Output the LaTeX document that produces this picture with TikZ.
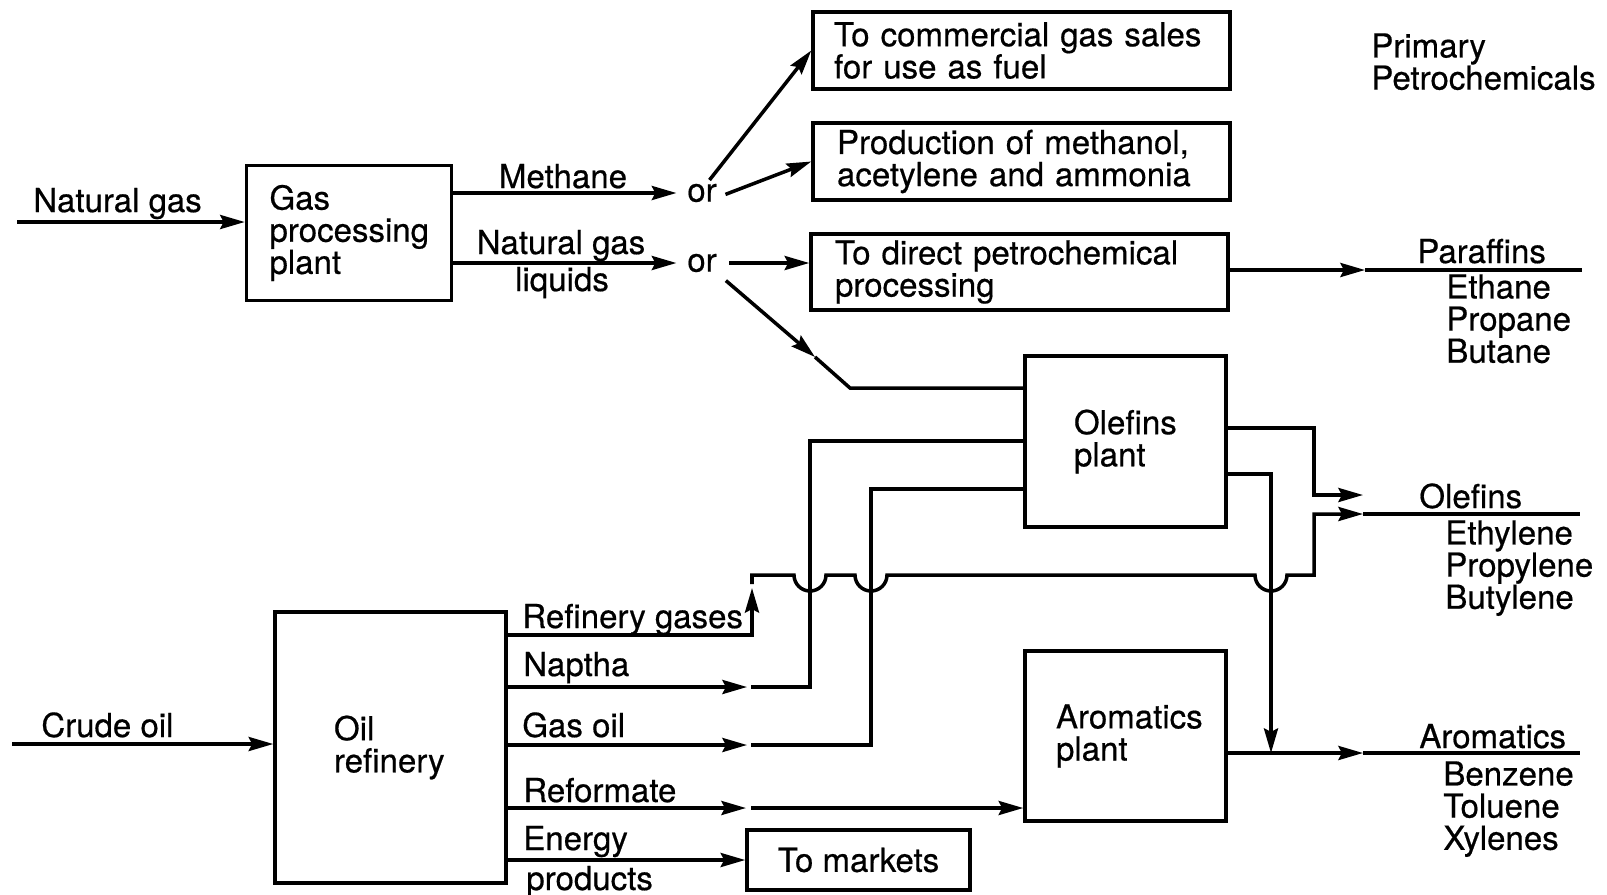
\documentclass[tikz,border=0pt]{standalone}
\usepackage{fontspec}
\setmainfont{TeX Gyre Heros}[FakeBold=0.5]
\usetikzlibrary{arrows.meta}

\tikzset{
  feedline/.style={line width=2pt},
  feedarrow/.style={line width=2pt, -{Stealth[length=14pt,width=8pt,inset=2pt]}},
  plantbox/.style={draw, line width=2pt, align=left, inner sep=0pt},
  lbl/.style={inner sep=0pt, anchor=base west},
  listlbl/.style={inner sep=0pt, anchor=north west, align=left},
}

\begin{document}
\begin{tikzpicture}[x=0.02cm, y=-0.02cm, font=\fontsize{18.8}{18.3}\selectfont]
  \useasboundingbox (0,0) rectangle (1607,894);

  % Plants and destinations
  \node[plantbox, minimum width=4.1cm, minimum height=2.7cm, text width=3.18cm] (gas) at (349,233) {Gas\\processing\\plant};
  \node[plantbox, minimum width=8.34cm, minimum height=1.54cm, text width=7.5cm] (sales) at (1021.5,50.5) {To commercial gas sales\\for use as fuel};
  \node[plantbox, minimum width=8.34cm, minimum height=1.54cm, text width=7.38cm] (methanol) at (1021.5,161.5) {Production of methanol,\\acetylene and ammonia};
  \node[plantbox, minimum width=8.34cm, minimum height=1.52cm, text width=7.38cm] (direct) at (1019.5,272) {To direct petrochemical\\processing};
  \node[plantbox, minimum width=4.02cm, minimum height=3.42cm, text width=2.06cm] (olefins) at (1125.5,441.5) {Olefins\\plant};
  \node[plantbox, minimum width=4.02cm, minimum height=3.4cm, text width=2.78cm] (aromatics) at (1125.5,736) {Aromatics\\plant};
  \node[plantbox, minimum width=4.62cm, minimum height=5.42cm, text width=2.26cm] (refinery) at (390.5,747.5) {Oil\\refinery};
  \node[plantbox, minimum width=4.46cm, minimum height=1.2cm] (markets) at (858.5,860) {To markets};

  % Choice points
  \node[inner sep=2pt] (or1) at (702,193) {or};
  \node[inner sep=2pt] (or2) at (702,263) {or};

  % Feeds
  \coordinate (ngin) at (17,222);
  \coordinate (crin) at (12,744);
  \draw[feedarrow] (ngin) -- (ngin -| gas.west);
  \draw[feedarrow] (crin) -- (crin -| refinery.west);
  \node[lbl] (nglbl) at (33,212) {Natural gas};
  \node[lbl] (crlbl) at (41,737) {Crude oil};

  % Gas plant outputs
  \draw[feedarrow, shorten >=4pt] (gas.east |- or1) -- (or1.west);
  \draw[feedarrow, shorten >=4pt] (gas.east |- or2) -- (or2.west);
  \node[lbl, anchor=base] (methlbl) at (563,188) {Methane};
  \node[lbl, anchor=base] (ngllbl) at (561,254) {Natural gas};
  \node[lbl, anchor=base] (liqlbl) at (562,291) {liquids};

  \draw[feedarrow] (or1.60) -- (sales.west);
  \draw[feedarrow, shorten <=3pt] (or1.-10) -- (methanol.west);
  \draw[feedarrow, shorten <=5pt] (or2.east) -- (or2.east -| direct.west);

  \coordinate (dg1) at (815,357);
  \coordinate (dg2) at (850,388);
  \draw[feedarrow, shorten <=4pt] (or2.south east) -- (dg1);
  \draw[feedline] (dg1) -- (dg2) -- (dg2 -| olefins.west);

  % Refinery outputs
  \coordinate (rga) at (752,635);
  \coordinate (rgb) at (752,588);
  \coordinate (rgc) at (752,584);
  \coordinate (rgd) at (752,575);
  \coordinate (nap) at (747,687);
  \coordinate (napa) at (751,687);
  \coordinate (napc) at (810,441);
  \coordinate (goa) at (747,745);
  \coordinate (gob) at (751,745);
  \coordinate (goc) at (871,489);
  \coordinate (rfa) at (746,808);
  \coordinate (rfb) at (751,808);

  \draw[feedarrow] (refinery.east |- rga) -- (rga) -- (rgb);
  \draw[feedarrow] (refinery.east |- nap) -- (nap);
  \draw[feedarrow] (refinery.east |- goa) -- (goa);
  \draw[feedarrow] (refinery.east |- rfa) -- (rfa);
  \draw[feedarrow] (refinery.east |- markets.west) -- (markets.west);

  \draw[feedline] (napa) -- (napa -| napc) -- (napc) -- (napc -| olefins.west);
  \draw[feedline] (gob) -- (gob -| goc) -- (goc) -- (goc -| olefins.west);
  \draw[feedarrow] (rfb) -- (rfb -| aromatics.west);

  \node[lbl] (rglbl) at (522,628) {Refinery gases};
  \node[lbl] (naplbl) at (523,676) {Naptha};
  \node[lbl] (golbl) at (522,737) {Gas oil};
  \node[lbl] (rflbl) at (523,802) {Reformate};
  \node[lbl] (enlbl) at (523,850) {Energy};
  \node[lbl] (prlbl) at (526,890) {products};

  % Olefins plant outputs
  \coordinate (ola) at (1314,428);
  \coordinate (olb) at (1314,495);
  \coordinate (olc) at (1271,474);
  \coordinate (olin) at (1363,514);
  \coordinate (olend) at (1580,514);
  \coordinate (arin) at (1363,753);
  \coordinate (arend) at (1580,753);
  \draw[feedarrow] (olefins.east |- ola) -- (ola) -- (olb) -- (olb -| olin);
  \draw[feedarrow] (olefins.east |- olc) -- (olc) -- (olc |- arin);

  % Refinery gases hop over the crossings
  \draw[feedarrow] (rgc) -- (rgd)
    foreach \bx in {810,871,1271} { -- (\bx-16,575) arc[start angle=180, end angle=360, radius=0.32cm] }
    -- (1314,575) -- (1314,514) -- (olin);

  \draw[feedarrow] (aromatics.east |- arin) -- (arin);

  % Primary petrochemicals
  \coordinate (parin) at (1365,270);
  \coordinate (parend) at (1582,270);
  \draw[feedarrow] (direct.east |- parin) -- (parin);
  \draw[feedline] (parin) -- (parend);
  \draw[feedline] (olin) -- (olend);
  \draw[feedline] (arin) -- (arend);

  \node[listlbl] (prim) at (1371,33) {Primary\\Petrochemicals};
  \node[lbl] (parlbl) at (1417,263) {Paraffins};
  \node[listlbl] (parlist) at (1446,274) {Ethane\\Propane\\Butane};
  \node[lbl] (ollbl) at (1419,508) {Olefins};
  \node[listlbl] (ollist) at (1445,520) {Ethylene\\Propylene\\Butylene};
  \node[lbl] (arlbl) at (1419,748) {Aromatics};
  \node[listlbl] (arlist) at (1443,761) {Benzene\\Toluene\\Xylenes};

\end{tikzpicture}
\end{document}
